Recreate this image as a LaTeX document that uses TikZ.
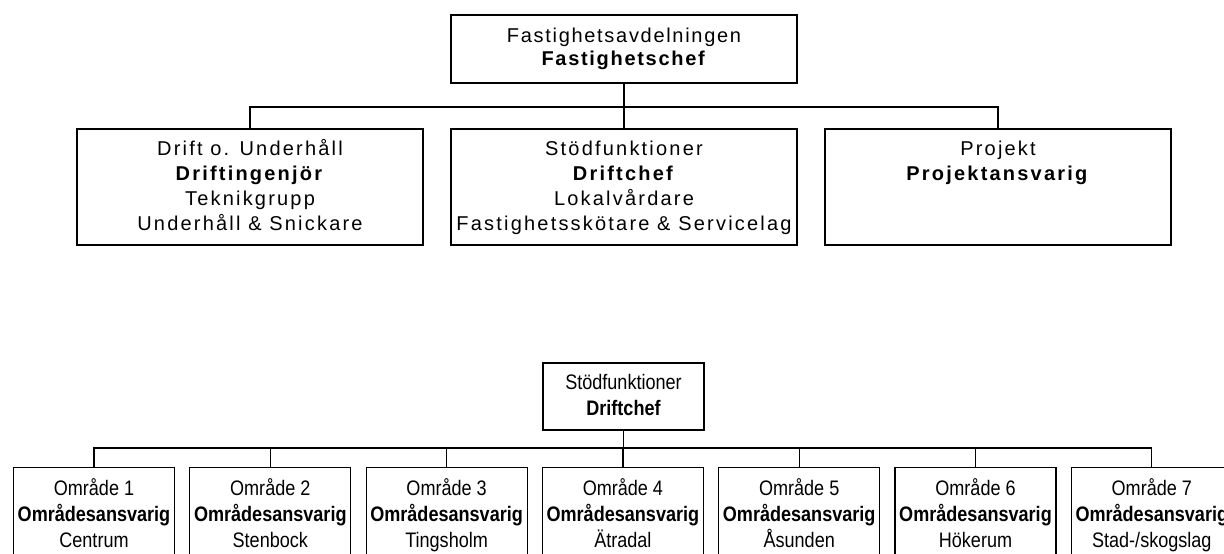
\documentclass[tikz,border=0pt]{standalone}
\usepackage{fontspec}
\setmainfont{Liberation Sans}
\newfontfamily\widefont[LetterSpace=8.5]{Liberation Sans}
\newfontfamily\unitfont[LetterSpace=11]{Liberation Sans}
\newfontfamily\narrowfont[FakeStretch=0.86]{Liberation Sans}
\usepackage{tikz}
\tikzset{topbox/.style={draw, line width=1.6pt, minimum width=346pt,
   minimum height=68pt, align=center,
   font=\widefont\fontsize{20}{23}\selectfont},
 unitbox/.style={draw, line width=1.6pt, minimum width=346pt,
   minimum height=116pt, align=center, text height=90pt, text depth=4pt,
   font=\unitfont\fontsize{20}{25}\selectfont},
 chefbox/.style={draw, line width=1.2pt, minimum width=161pt,
   minimum height=67pt, align=center, text height=42pt, text depth=4pt,
   font=\narrowfont\fontsize{21}{26}\selectfont},
 areabox/.style={draw, line width=1.2pt, minimum width=161pt, inner xsep=0pt,
   inner ysep=6pt, anchor=north, align=center, text height=74pt, text depth=30pt,
   font=\narrowfont\fontsize{21}{26}\selectfont},
 link/.style={draw, line width=1.6pt},
 thinlink/.style={draw, line width=1.2pt},
 }

\begin{document}
\begin{tikzpicture}[x=1pt, y=-1pt]
        \useasboundingbox (0,0) rectangle (1224,554);
        \clip (0,0) rectangle (1224,554);
        \node[topbox] (avd) at (624,49) {Fastighetsavdelningen\\ \textbf{Fastighetschef}};
        \node[unitbox] (drift) at (250,187) {Drift o. Underhåll\\ \textbf{Driftingenjör}\\ Teknikgrupp\\ Underhåll \& Snickare};
        \node[unitbox] (stod) at (624,187) {Stödfunktioner\\ \textbf{Driftchef}\\ Lokalvårdare\\ Fastighetsskötare \& Servicelag};
        \node[unitbox, text height=40pt, text depth=54pt] (proj) at (998,187) {Projekt\\ \textbf{Projektansvarig}};
        \coordinate (bus) at (624,107);
        \draw[link] (avd.south) -- (bus);
        \draw[link] (drift.north) |- (bus) -| (proj.north);
        \draw[link] (bus) -- (stod.north);

        \node[chefbox] (chef) at (623.5,396.5) {Stödfunktioner\\ \textbf{Driftchef}};
        \node[areabox] (om1) at (94,467) {Område 1\\ \textbf{Områdesansvarig}\\ Centrum};
        \node[areabox] (om2) at (270.3,467) {Område 2\\ \textbf{Områdesansvarig}\\ Stenbock};
        \node[areabox] (om3) at (446.6,467) {Område 3\\ \textbf{Områdesansvarig}\\ Tingsholm};
        \node[areabox] (om4) at (622.9,467) {Område 4\\ \textbf{Områdesansvarig}\\ Ätradal};
        \node[areabox] (om5) at (799.2,467) {Område 5\\ \textbf{Områdesansvarig}\\ Åsunden};
        \node[areabox] (om6) at (975.5,467) {Område 6\\ \textbf{Områdesansvarig}\\ Hökerum};
        \node[areabox] (om7) at (1151.8,467) {Område 7\\ \textbf{Områdesansvarig}\\ Stad-/skogslag};
        \coordinate (bus2) at (623.5,448);
        \draw[thinlink] (chef.south) -- (bus2);
        \draw[thinlink] (om1.north) |- (bus2) -| (om7.north);
        \draw[thinlink] (om2.north) -- (om2.north |- bus2);
        \draw[thinlink] (om3.north) -- (om3.north |- bus2);
        \draw[thinlink] (om4.north) -- (om4.north |- bus2);
        \draw[thinlink] (om5.north) -- (om5.north |- bus2);
        \draw[thinlink] (om6.north) -- (om6.north |- bus2);
    \end{tikzpicture}
\end{document}
